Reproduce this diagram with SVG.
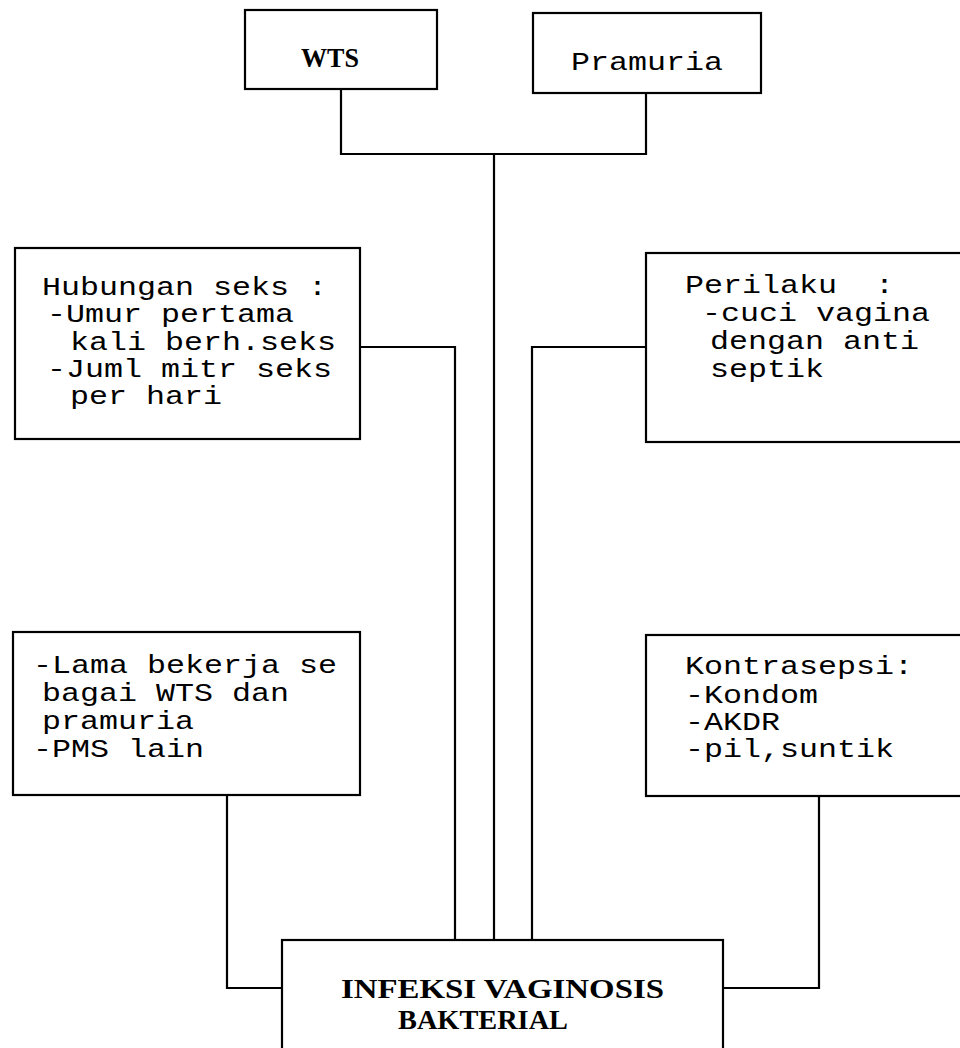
<svg xmlns="http://www.w3.org/2000/svg" width="960" height="1048" viewBox="0 0 960 1048">
<style>
.box{fill:#fff;stroke:#000;stroke-width:2.2}
.ln{fill:none;stroke:#000;stroke-width:2.2}
.t{font-family:"Liberation Mono","Courier New",monospace;font-size:25px;fill:#000;white-space:pre}
.s{font-family:"Liberation Serif","Times New Roman",serif;font-weight:bold;fill:#000}
</style>
<rect width="960" height="1048" fill="#fff"/>
<g id="connectors">
<polyline class="ln" points="341,89 341,154 646,154 646,93"/>
<line class="ln" x1="494" y1="154" x2="494" y2="940"/>
<polyline class="ln" points="360,347 455,347 455,940"/>
<polyline class="ln" points="646,347 532,347 532,940"/>
<polyline class="ln" points="227,795 227,988 282,988"/>
<polyline class="ln" points="819,796 819,988 723,988"/>
</g>
<g id="wts">
<rect class="box" x="245" y="10" width="192" height="79"/>
<text class="s" x="301" y="67" font-size="27" textLength="58" lengthAdjust="spacingAndGlyphs">WTS</text>
</g>
<g id="pramuria">
<rect class="box" x="533" y="13" width="228" height="80"/>
<text class="t" x="571" y="70" textLength="152" lengthAdjust="spacingAndGlyphs">Pramuria</text>
</g>
<g id="hubungan">
<rect class="box" x="15" y="248" width="345" height="191"/>
<text class="t" x="42" y="295" textLength="285" lengthAdjust="spacingAndGlyphs">Hubungan seks :</text>
<text class="t" x="47" y="322" textLength="247" lengthAdjust="spacingAndGlyphs">-Umur pertama</text>
<text class="t" x="70" y="350" textLength="266" lengthAdjust="spacingAndGlyphs">kali berh.seks</text>
<text class="t" x="47" y="377" textLength="285" lengthAdjust="spacingAndGlyphs">-Juml mitr seks</text>
<text class="t" x="70" y="404" textLength="152" lengthAdjust="spacingAndGlyphs">per hari</text>
</g>
<g id="perilaku">
<rect class="box" x="646" y="253" width="320" height="189"/>
<text class="t" x="685" y="293" textLength="209" lengthAdjust="spacingAndGlyphs">Perilaku  :</text>
<text class="t" x="702" y="321" textLength="228" lengthAdjust="spacingAndGlyphs">-cuci vagina</text>
<text class="t" x="710" y="349" textLength="209" lengthAdjust="spacingAndGlyphs">dengan anti</text>
<text class="t" x="710" y="377" textLength="114" lengthAdjust="spacingAndGlyphs">septik</text>
</g>
<g id="lama">
<rect class="box" x="13" y="632" width="347" height="163"/>
<text class="t" x="33" y="673" textLength="304" lengthAdjust="spacingAndGlyphs">-Lama bekerja se</text>
<text class="t" x="42" y="701" textLength="247" lengthAdjust="spacingAndGlyphs">bagai WTS dan</text>
<text class="t" x="42" y="729" textLength="152" lengthAdjust="spacingAndGlyphs">pramuria</text>
<text class="t" x="33" y="757" textLength="171" lengthAdjust="spacingAndGlyphs">-PMS lain</text>
</g>
<g id="kontrasepsi">
<rect class="box" x="646" y="635" width="320" height="161"/>
<text class="t" x="685" y="674" textLength="228" lengthAdjust="spacingAndGlyphs">Kontrasepsi:</text>
<text class="t" x="685" y="703" textLength="133" lengthAdjust="spacingAndGlyphs">-Kondom</text>
<text class="t" x="685" y="730" textLength="95" lengthAdjust="spacingAndGlyphs">-AKDR</text>
<text class="t" x="685" y="757" textLength="209" lengthAdjust="spacingAndGlyphs">-pil,suntik</text>
</g>
<g id="infeksi">
<rect class="box" x="282" y="940" width="441" height="130"/>
<text class="s" x="341" y="998" font-size="27" textLength="323" lengthAdjust="spacingAndGlyphs">INFEKSI VAGINOSIS</text>
<text class="s" x="398" y="1029" font-size="27" textLength="170" lengthAdjust="spacingAndGlyphs">BAKTERIAL</text>
</g>
</svg>
